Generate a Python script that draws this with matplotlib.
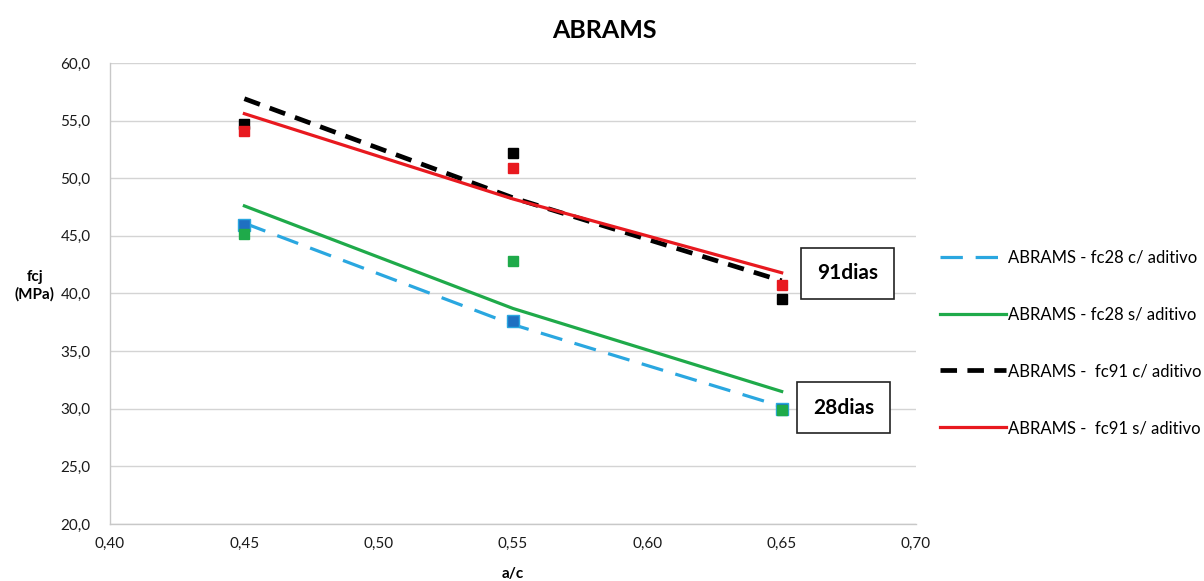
import matplotlib
matplotlib.use("Agg")
import matplotlib.pyplot as plt
from matplotlib.ticker import FuncFormatter, MultipleLocator

# ---- data ----
ac = [0.45, 0.55, 0.65]
fc28_c_pts = [45.9, 37.6, 30.0]
fc28_s_pts = [45.2, 42.8, 29.9]
fc91_c_pts = [54.7, 52.2, 39.5]
fc91_s_pts = [54.1, 50.9, 40.7]
# Abrams trend lines
fc28_c_fit = [46.1, 37.3, 30.2]
fc28_s_fit = [47.6, 38.7, 31.5]
fc91_c_fit = [56.9, 48.3, 41.1]
fc91_s_fit = [55.6, 48.2, 41.8]
labels = ["ABRAMS - fc28 c/ aditivo", "ABRAMS - fc28 s/ aditivo",
          "ABRAMS -  fc91 c/ aditivo", "ABRAMS -  fc91 s/ aditivo"]

plt.rcParams['font.family'] = ['Lato', 'DejaVu Sans']

fig = plt.figure(figsize=(12.04, 5.81), dpi=100)
ax = fig.add_axes([0.0914, 0.0981, 0.6694, 0.7935])

c_blue_line = '#2aa7e0'
c_blue_mk = '#1f70c1'
c_green = '#1faa4a'
c_black = '#000000'
c_red = '#e8191f'

l1, = ax.plot(ac, fc28_c_fit, color=c_blue_line, lw=2.3, dashes=(7, 4), zorder=3)
l2, = ax.plot(ac, fc28_s_fit, color=c_green, lw=2.3, zorder=3)
l3, = ax.plot(ac, fc91_c_fit, color=c_black, lw=3.4, dashes=(3.5, 2.2), zorder=3)
l4, = ax.plot(ac, fc91_s_fit, color=c_red, lw=2.3, zorder=4)

ax.plot(ac, fc28_c_pts, 's', color=c_blue_mk, mec=c_blue_line, mew=1, ms=8, ls='none', zorder=5)
ax.plot(ac, fc28_s_pts, 's', color=c_green, ms=6.5, ls='none', zorder=6)
ax.plot(ac, fc91_c_pts, 's', color=c_black, ms=6.5, ls='none', zorder=5)
ax.plot(ac, fc91_s_pts, 's', color=c_red, ms=6.5, ls='none', zorder=6)

ax.set_xlim(0.40, 0.70)
ax.set_ylim(20, 60)
ax.xaxis.set_major_locator(MultipleLocator(0.05))
ax.yaxis.set_major_locator(MultipleLocator(5))
ax.xaxis.set_major_formatter(FuncFormatter(lambda v, p: f"{v:.2f}".replace('.', ',')))
ax.yaxis.set_major_formatter(FuncFormatter(lambda v, p: f"{v:.1f}".replace('.', ',')))
ax.tick_params(length=0, labelsize=11, colors='#1a1a1a')
ax.tick_params(axis='y', pad=14)
ax.tick_params(axis='x', pad=9)
ax.grid(axis='y', color='#d4d4d4', lw=1)
ax.set_axisbelow(True)
for s in ['top', 'right']:
    ax.spines[s].set_visible(False)
for s in ['left', 'bottom']:
    ax.spines[s].set_color('#c8c8c8')
    ax.spines[s].set_linewidth(1)

ax.set_xlabel('a/c', fontsize=11, fontweight='bold', labelpad=12)
fig.text(0.029, 0.508, 'fcj\n(MPa)', ha='center', va='center', fontsize=11,
         fontweight='bold', linespacing=1.2)
fig.text(0.5017, 0.947, 'ABRAMS', ha='center', va='center', fontsize=18, fontweight='bold')

box = dict(boxstyle='square,pad=0.75', fc='white', ec='#222222', lw=1.2)
ax.text(0.6745, 41.75, '91dias', ha='center', va='center', fontsize=15,
        fontweight='bold', bbox=box, zorder=7)
ax.text(0.673, 30.1, '28dias', ha='center', va='center', fontsize=15,
        fontweight='bold', bbox=box, zorder=7)

fig.legend([l1, l2, l3, l4], labels, loc='upper left',
           bbox_to_anchor=(0.775, 0.582), frameon=False, fontsize=12,
           handlelength=4.0, handletextpad=0.1, labelspacing=2.45,
           borderaxespad=0)

fig.savefig('out.png', dpi=100)
